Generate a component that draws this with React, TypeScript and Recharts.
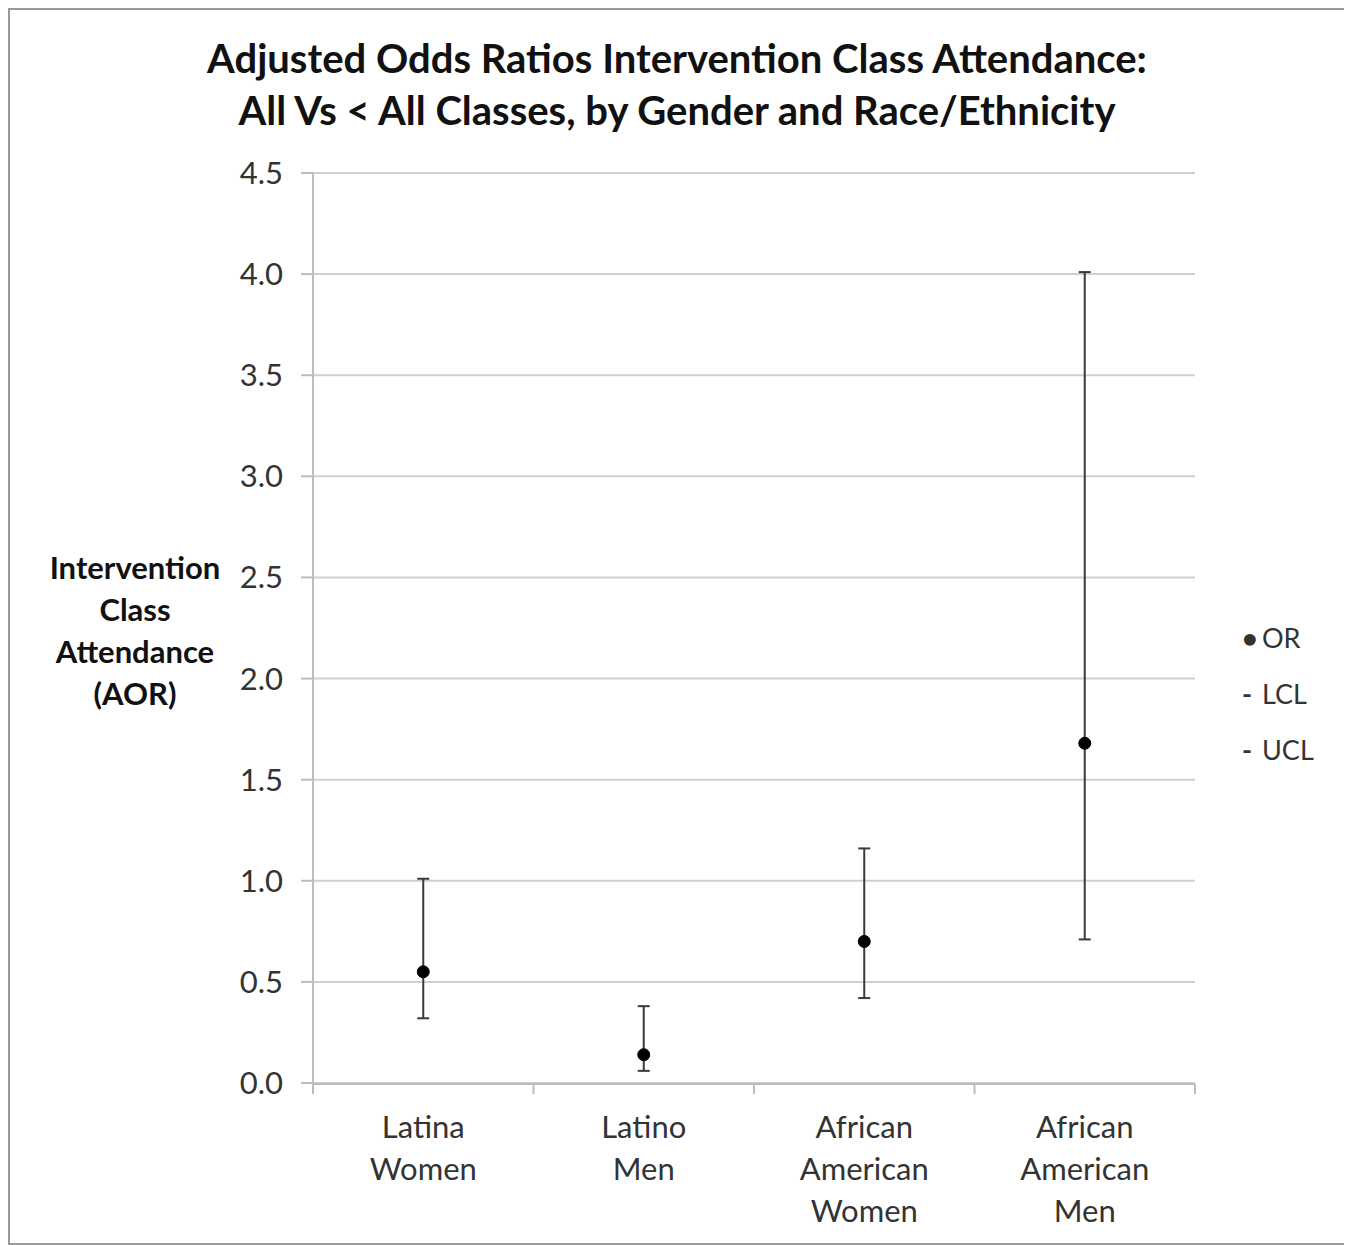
import { ComposedChart, Line, ErrorBar, XAxis, YAxis, CartesianGrid } from 'recharts'

const groups = ['Latina\nWomen', 'Latino\nMen', 'African\nAmerican\nWomen', 'African\nAmerican\nMen']
const orValues = [0.55, 0.14, 0.7, 1.68]
const lclValues = [0.32, 0.06, 0.42, 0.71]
const uclValues = [1.01, 0.38, 1.16, 4.01]
const yTicks = [0, 0.5, 1, 1.5, 2, 2.5, 3, 3.5, 4, 4.5]
const xTicks = [0, 1, 2, 3, 4]
const legendItems = [
  { mark: '•', label: 'OR' },
  { mark: '-', label: 'LCL' },
  { mark: '-', label: 'UCL' },
]

const FONT = "Lato, 'Open Sans', sans-serif"

const data = groups.map((name, i) => ({
  name,
  x: i + 0.5,
  or: orValues[i],
  err: [orValues[i] - lclValues[i], uclValues[i] - orValues[i]],
}))

function GroupTick({ x, y, payload }: any) {
  const lines = String(payload.value).split('\n')
  return (
    <text x={x} y={y} textAnchor="middle" fill="#333" fontSize={31} fontFamily={FONT}>
      {lines.map((l, i) => (
        <tspan key={i} x={x} dy={i === 0 ? 47 : 42}>{l}</tspan>
      ))}
    </text>
  )
}

export default function App() {
  return (
    <div style={{ position: 'relative', width: 1338, height: 1237, border: '2px solid #9a9a9a', boxSizing: 'border-box', background: '#fff' }}>
      <div style={{ position: 'absolute', left: -2, top: 22, width: 1338, textAlign: 'center', fontFamily: FONT, fontWeight: 700, fontSize: 40, lineHeight: '52px', color: '#111' }}>
        Adjusted Odds Ratios Intervention Class Attendance:<br />
        All Vs &lt; All Classes, by Gender and Race/Ethnicity
      </div>
      <div style={{ position: 'absolute', left: 25, top: 536, width: 200, textAlign: 'center', fontFamily: FONT, fontWeight: 700, fontSize: 31, lineHeight: '42px', color: '#111' }}>
        Intervention<br />Class<br />Attendance<br />(AOR)
      </div>
      <div style={{ position: 'absolute', left: 1232, top: 600, fontFamily: FONT, fontSize: 27, color: '#333', lineHeight: '56px' }}>
        {legendItems.map(it => (
          <div key={it.label}>
            <span style={{ display: 'inline-block', width: 20, fontWeight: 700 }}>{it.mark}</span>
            {it.label}
          </div>
        ))}
      </div>
      <div style={{ position: 'absolute', left: -2, top: -2 }}>
        <ComposedChart width={1338} height={1237} data={data} margin={{ top: 165, right: 151, bottom: 160, left: 225 }}>
          <CartesianGrid horizontal vertical={false} stroke="#cfcfcf" strokeWidth={2} />
          <XAxis
            xAxisId="num"
            type="number"
            dataKey="x"
            domain={[0, 4]}
            ticks={xTicks}
            tickFormatter={() => ''}
            tickSize={10}
            stroke="#bdbdbd"
            strokeWidth={2}
            height={1}
          />
          <XAxis
            xAxisId="cat"
            dataKey="name"
            scale="band"
            axisLine={false}
            tickLine={false}
            tick={<GroupTick />}
            interval={0}
            height={1}
          />
          <YAxis
            type="number"
            domain={[0, 4.5]}
            ticks={yTicks}
            width={80}
            tickFormatter={(v: number) => v.toFixed(1)}
            tick={{ fill: '#333', fontSize: 31, fontFamily: FONT }}
            tickSize={12}
            tickMargin={18}
            stroke="#bdbdbd"
            strokeWidth={2}
            allowDataOverflow
          />
          <Line
            xAxisId="num"
            dataKey="or"
            stroke="none"
            dot={{ r: 6, fill: '#000', stroke: '#000' }}
            activeDot={false}
            legendType="none"
            isAnimationActive={false}
          >
            <ErrorBar dataKey="err" direction="y" width={6} stroke="#3a3a3a" strokeWidth={2} isAnimationActive={false} />
          </Line>
        </ComposedChart>
      </div>
    </div>
  )
}
